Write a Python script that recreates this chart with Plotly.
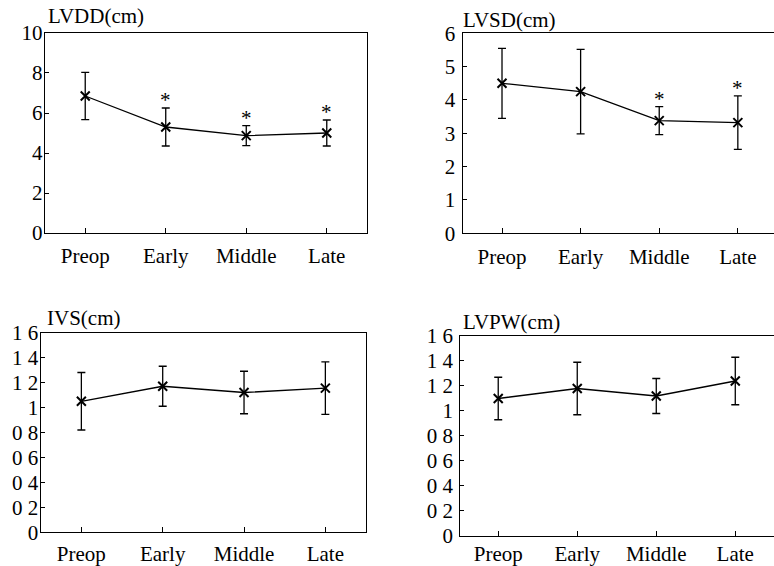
import plotly.graph_objects as go

categories = ["Preop", "Early", "Middle", "Late"]

lvdd_mean = [6.85, 5.30, 4.87, 5.00]
lvdd_sd = [1.18, 0.95, 0.50, 0.65]
lvdd_sig = [False, True, True, True]

lvsd_mean = [4.50, 4.25, 3.38, 3.32]
lvsd_sd = [1.05, 1.27, 0.42, 0.80]
lvsd_sig = [False, False, True, True]

ivs_mean = [1.05, 1.17, 1.12, 1.155]
ivs_sd = [0.23, 0.16, 0.17, 0.21]
ivs_sig = [False, False, False, False]

lvpw_mean = [1.10, 1.18, 1.12, 1.24]
lvpw_sd = [0.17, 0.21, 0.14, 0.19]
lvpw_sig = [False, False, False, False]

lvdd_ticks = [0, 2, 4, 6, 8, 10]
lvdd_ticktext = ["0", "2", "4", "6", "8", "10"]
lvsd_ticks = [0, 1, 2, 3, 4, 5, 6]
lvsd_ticktext = ["0", "1", "2", "3", "4", "5", "6"]
wall_ticks = [0, 0.2, 0.4, 0.6, 0.8, 1.0, 1.2, 1.4, 1.6]
wall_ticktext = ["0", "0 2", "0 4", "0 6", "0 8", "1", "1 2", "1 4", "1 6"]

titles = ["LVDD(cm)", "LVSD(cm)", "IVS(cm)", "LVPW(cm)"]

FONT = "Liberation Serif, Times New Roman, serif"
FS = 21

panels = [
    dict(mean=lvdd_mean, sd=lvdd_sd, sig=lvdd_sig, ticks=lvdd_ticks, tt=lvdd_ticktext,
         yr=[0, 10], xd=[0.0581, 0.4742], yd=[0.5883, 0.9417], xr=[-0.5, 3.5], mirror_y=True,
         title=titles[0], tx=0.059, ty=0.972, ys=-3, xs=4),
    dict(mean=lvsd_mean, sd=lvsd_sd, sig=lvsd_sig, ticks=lvsd_ticks, tt=lvsd_ticktext,
         yr=[0, 6], xd=[0.5978, 1.0], yd=[0.5878, 0.9412], xr=[-0.5, 3.46], mirror_y=False,
         title=titles[1], tx=0.596, ty=0.965, ys=2, xs=4),
    dict(mean=ivs_mean, sd=ivs_sd, sig=ivs_sig, ticks=wall_ticks, tt=wall_ticktext,
         yr=[0, 1.6], xd=[0.0526, 0.4729], yd=[0.0592, 0.4125], xr=[-0.5, 3.5], mirror_y=True,
         title=titles[2], tx=0.058, ty=0.4375, ys=-3, xs=2),
    dict(mean=lvpw_mean, sd=lvpw_sd, sig=lvpw_sig, ticks=wall_ticks, tt=wall_ticktext,
         yr=[0, 1.6], xd=[0.5947, 1.0], yd=[0.053, 0.4064], xr=[-0.48, 3.49], mirror_y=False,
         title=titles[3], tx=0.596, ty=0.4315, ys=2, xs=-1),
]

fig = go.Figure()
annotations = []
layout = {}
for i, p in enumerate(panels):
    n = "" if i == 0 else str(i + 1)
    xa, ya = "x" + n, "y" + n
    fig.add_trace(go.Scatter(
        x=categories, y=p["mean"], xaxis=xa, yaxis=ya,
        mode="lines+markers",
        line=dict(color="black", width=1.3),
        marker=dict(symbol="x-thin", size=9, color="black",
                    line=dict(width=2, color="black")),
        error_y=dict(type="data", array=p["sd"], visible=True,
                     color="black", thickness=1.3, width=4),
        showlegend=False, hoverinfo="skip", cliponaxis=False,
    ))
    layout["xaxis" + n] = dict(
        domain=p["xd"], anchor=ya, type="category", range=p["xr"],
        showline=True, linecolor="black", linewidth=1.3, mirror=True,
        ticks="inside", ticklen=5, tickcolor="black", tickwidth=1.2,
        showgrid=False, zeroline=False, fixedrange=True, automargin=False,
        tickfont=dict(family=FONT, size=FS, color="black"),
        ticklabelstandoff=p["xs"],
    )
    layout["yaxis" + n] = dict(
        domain=p["yd"], anchor=xa, range=p["yr"],
        tickvals=p["ticks"], ticktext=p["tt"],
        showline=True, linecolor="black", linewidth=1.3, mirror=p["mirror_y"],
        ticks="inside", ticklen=4, tickcolor="black", tickwidth=1.2,
        showgrid=False, zeroline=False, fixedrange=True, automargin=False,
        tickfont=dict(family=FONT, size=FS, color="black"),
        ticklabelstandoff=p["ys"],
    )
    annotations.append(dict(
        text=p["title"], xref="paper", yref="paper", x=p["tx"], y=p["ty"],
        xanchor="left", yanchor="middle", showarrow=False,
        font=dict(family=FONT, size=FS, color="black"),
    ))
    for c, m, s, sig in zip(categories, p["mean"], p["sd"], p["sig"]):
        if sig:
            annotations.append(dict(
                text="*", xref=xa, yref=ya, x=c, y=m + s,
                xanchor="center", yanchor="bottom", showarrow=False,
                yshift=-6,
                font=dict(family=FONT, size=FS, color="black"),
            ))

fig.update_layout(
    width=774, height=566,
    margin=dict(l=0, r=0, t=0, b=0),
    paper_bgcolor="white", plot_bgcolor="white",
    annotations=annotations,
    **layout,
)

fig.write_html(
    "out.html",
    config={"displayModeBar": False},
    post_script="document.body.style.margin='0';document.body.style.overflow='hidden';",
)
